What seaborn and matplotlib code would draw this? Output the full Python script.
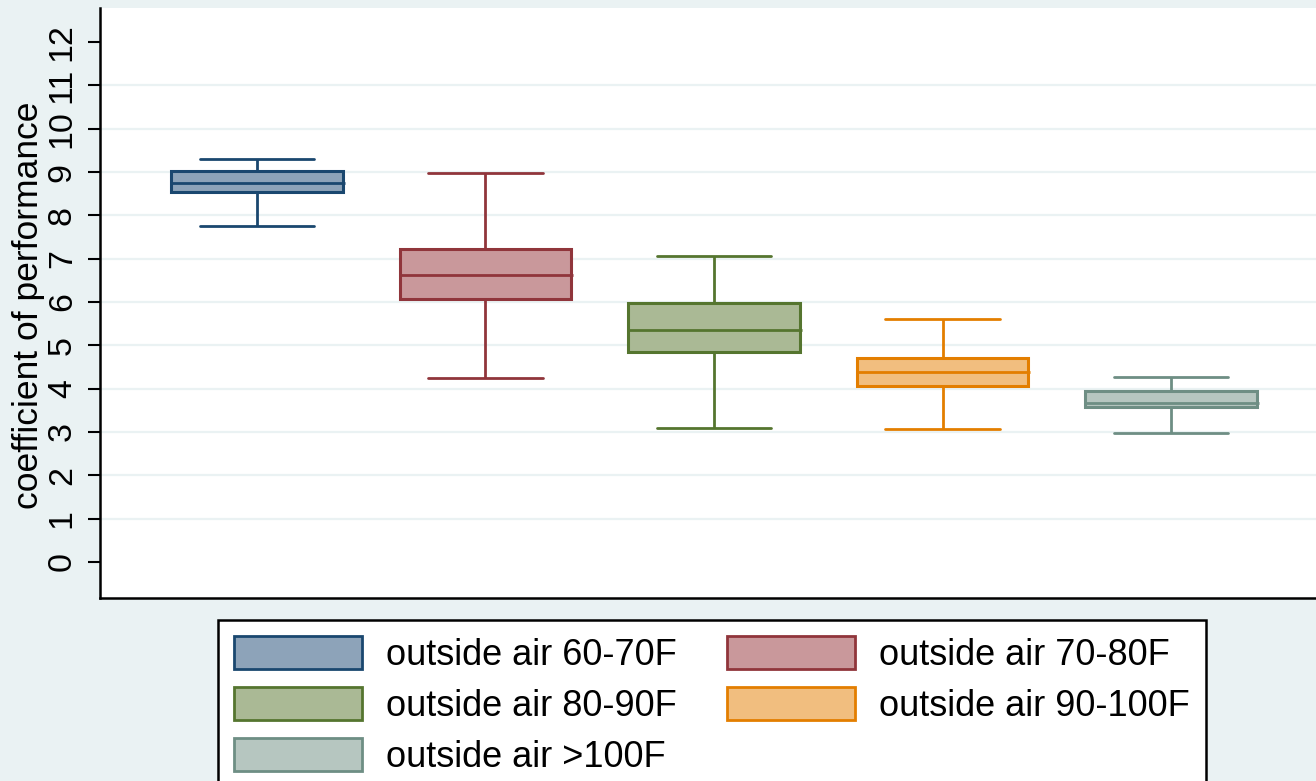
import numpy as np
import pandas as pd
import matplotlib
matplotlib.use("Agg")
import matplotlib.pyplot as plt
import seaborn as sns
from matplotlib.patches import Patch

# values (COP by outside-air band)
groups = ["outside air 60-70F", "outside air 70-80F", "outside air 80-90F",
          "outside air 90-100F", "outside air >100F"]
lower_whisker = [7.75, 4.25, 3.09, 3.07, 2.98]
q1 = [8.54, 6.07, 4.85, 4.06, 3.58]
median = [8.75, 6.62, 5.35, 4.38, 3.67]
q3 = [9.02, 7.22, 5.98, 4.71, 3.95]
upper_whisker = [9.30, 8.98, 7.06, 5.61, 4.27]
yticks = list(range(13))

fill_colors = ["#8DA3B9", "#C9989B", "#AAB995", "#F1BE7F", "#B6C6C0"]
edge_colors = ["#1A476F", "#90353B", "#55752F", "#E37E00", "#6E8E84"]
bg = "#EAF2F3"

# five points per group -> exact quartiles, whiskers at min/max
rows = []
for i, g in enumerate(groups):
    for v in (lower_whisker[i], q1[i], median[i], q3[i], upper_whisker[i]):
        rows.append({"group": g, "cop": v})
df = pd.DataFrame(rows)

sns.set_theme(style="white")
plt.rcParams["font.family"] = ["Liberation Sans", "DejaVu Sans"]
plt.rcParams["text.color"] = "black"
plt.rcParams["axes.labelcolor"] = "black"
plt.rcParams["ytick.color"] = "black"

fig = plt.figure(figsize=(13.16, 7.81), dpi=100, facecolor=bg)
ax = fig.add_axes([100 / 1316, 183 / 781, 1228 / 1316, 590 / 781])

sns.boxplot(data=df, x="group", y="cop", hue="group", order=groups,
            hue_order=groups, palette=fill_colors, saturation=1, width=0.75,
            whis=(0, 100), showfliers=False, linewidth=2, legend=False, ax=ax)

# per-box edge colours and wider caps
for cont in ax.containers:
    if not hasattr(cont, "caps"):
        continue
    caps = list(cont.caps)
    pos = int(round(np.mean(caps[0].get_xdata())))
    ec = edge_colors[pos]
    for b in cont.boxes:
        b.set_edgecolor(ec)
        b.set_linewidth(2.2)
    for ln in list(cont.whiskers) + caps + list(cont.medians):
        ln.set_color(ec)
        ln.set_linewidth(2.0)
    for c in caps:
        c.set_xdata([pos - 0.25, pos + 0.25])
    for m in cont.medians:
        m.set_xdata([pos - 0.375, pos + 0.385])

ax.set_xlim(-0.687, 4.687)
ax.set_ylim(-0.831, 12.785)
ax.set_xticks([])
ax.set_xlabel("")
ax.set_yticks(yticks)
ax.tick_params(axis="y", left=True, length=8.5, width=1.5, color="black",
               labelcolor="black", labelsize=24.5, pad=7.5, labelrotation=90)
plt.setp(ax.get_yticklabels(), va="center")

ax.yaxis.grid(True, color=bg, linewidth=1.6)
gl = ax.yaxis.get_gridlines()
gl[0].set_visible(False)
gl[-1].set_visible(False)
ax.set_axisbelow(True)

for s in ["top", "right"]:
    ax.spines[s].set_visible(False)
for s in ["left", "bottom"]:
    ax.spines[s].set_color("black")
    ax.spines[s].set_linewidth(1.8)

ax.set_ylabel("coefficient of performance", fontsize=25.5, color="black")
ax.yaxis.set_label_coords(-0.0586, 0.497)
ax.yaxis.label.set_va("center")

# legend, row-major order like the reference
order = [0, 2, 4, 1, 3]
handles = [Patch(facecolor=fill_colors[i], edgecolor=edge_colors[i], linewidth=2)
           for i in order]
labels = [groups[i] for i in order]
leg = fig.legend(handles, labels, loc="upper left",
                 bbox_to_anchor=(218 / 1316, 1 - 620 / 781), ncol=2,
                 fontsize=26, frameon=True, fancybox=False, edgecolor="black",
                 facecolor="white", framealpha=1, handlelength=3.55,
                 handleheight=1.0, handletextpad=0.65, columnspacing=1.4,
                 borderpad=0.45, labelspacing=0.4, borderaxespad=0)
leg.get_frame().set_linewidth(1.8)
for t in leg.get_texts():
    t.set_color("black")

fig.savefig("out.png", dpi=100, facecolor=bg)
